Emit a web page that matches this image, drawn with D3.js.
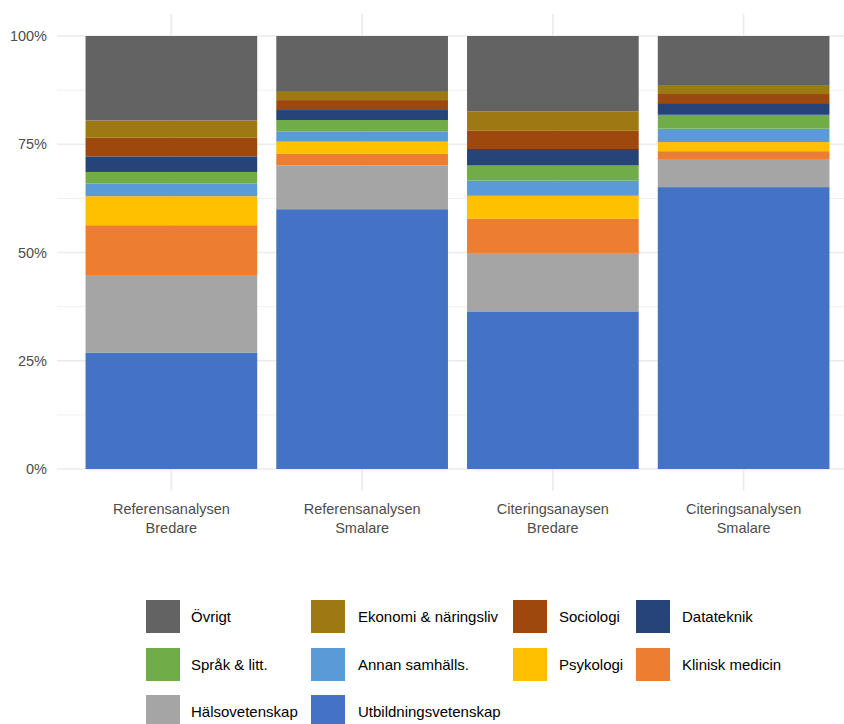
<!DOCTYPE html>
<html>
<head>
<meta charset="utf-8">
<script src="https://cdn.jsdelivr.net/npm/d3@7"></script>
<style>
  html, body { margin: 0; padding: 0; background: #fff; }
  svg { display: block; font-family: "Liberation Sans", Arial, sans-serif; }
</style>
</head>
<body>
<svg id="chart" width="844" height="724"></svg>
<script>
// Categories along the x axis (two-line labels)
const groups = [
  ["Referensanalysen", "Bredare"],
  ["Referensanalysen", "Smalare"],
  ["Citeringsanaysen", "Bredare"],
  ["Citeringsanalysen", "Smalare"]
];

// Subject areas, stacked from the bottom up
const subjects = [
  "Utbildningsvetenskap", "Hälsovetenskap", "Klinisk medicin", "Psykologi",
  "Annan samhälls.", "Språk & litt.", "Datateknik", "Sociologi",
  "Ekonomi & näringsliv", "Övrigt"
];

// Share (%) of each subject per category, in the order of `subjects`
const refBredare  = [26.9, 17.9, 11.5, 6.7, 2.9, 2.7, 3.6, 4.3, 4.0, 19.5];
const refSmalare  = [60.0, 10.1, 2.7, 2.8, 2.3, 2.7, 2.3, 2.3, 1.9, 12.9];
const citBredare  = [36.4, 13.5, 7.9, 5.3, 3.5, 3.5, 3.8, 4.2, 4.5, 17.4];
const citSmalare  = [65.1, 6.5, 1.8, 2.1, 3.1, 3.2, 2.7, 2.1, 1.9, 11.5];
const seriesByGroup = [refBredare, refSmalare, citBredare, citSmalare];

const colors = [
  "#4472C4", "#A5A5A5", "#ED7D31", "#FFC000", "#5B9BD5",
  "#70AD47", "#264478", "#9E480E", "#9E7913", "#636363"
];

// Legend layout (row by row)
const legendOrder = [
  "Övrigt", "Ekonomi & näringsliv", "Sociologi", "Datateknik",
  "Språk & litt.", "Annan samhälls.", "Psykologi", "Klinisk medicin",
  "Hälsovetenskap", "Utbildningsvetenskap"
];

const yTicks = [0, 25, 50, 75, 100];
const yMinor = [12.5, 37.5, 62.5, 87.5];

const svg = d3.select("#chart");
const panel = { left: 57, right: 858, top: 14, bottom: 491 };

// Discrete axis expanded by 0.6 of a step on both sides
const x = d3.scaleBand()
  .domain(d3.range(groups.length))
  .range([76, 839])
  .paddingInner(0.1)
  .paddingOuter(0.05);

const y = d3.scaleLinear().domain([0, 100]).range([469, 36]);

const grid = svg.append("g");
grid.selectAll("line.minor").data(yMinor).join("line")
  .attr("x1", panel.left).attr("x2", panel.right)
  .attr("y1", d => y(d)).attr("y2", d => y(d))
  .attr("stroke", "#f0f0f0").attr("stroke-width", 1);
grid.selectAll("line.major").data(yTicks).join("line")
  .attr("x1", panel.left).attr("x2", panel.right)
  .attr("y1", d => y(d)).attr("y2", d => y(d))
  .attr("stroke", "#ebebeb").attr("stroke-width", 1.6);
grid.selectAll("line.vert").data(d3.range(groups.length)).join("line")
  .attr("x1", d => x(d) + x.bandwidth() / 2).attr("x2", d => x(d) + x.bandwidth() / 2)
  .attr("y1", panel.top).attr("y2", panel.bottom)
  .attr("stroke", "#ebebeb").attr("stroke-width", 1.6);

// Stacked bars
const rows = groups.map((g, i) => {
  const r = { idx: i };
  subjects.forEach((s, j) => { r[s] = seriesByGroup[i][j]; });
  return r;
});
const stack = d3.stack().keys(subjects)(rows);

svg.append("g").selectAll("g").data(stack).join("g")
  .attr("fill", (d, i) => colors[i])
  .selectAll("rect").data(d => d).join("rect")
  .attr("x", d => x(d.data.idx))
  .attr("width", x.bandwidth())
  .attr("y", d => y(d[1]))
  .attr("height", d => y(d[0]) - y(d[1]));

// Y axis labels
svg.append("g").selectAll("text").data(yTicks).join("text")
  .attr("x", 47).attr("y", d => y(d))
  .attr("dy", "0.35em")
  .attr("text-anchor", "end")
  .attr("font-size", 14.5)
  .attr("fill", "#4d4d4d")
  .text(d => d + "%");

// X axis labels
const xl = svg.append("g").selectAll("text").data(groups).join("text")
  .attr("x", (d, i) => x(i) + x.bandwidth() / 2)
  .attr("y", 514)
  .attr("text-anchor", "middle")
  .attr("font-size", 14.5)
  .attr("fill", "#4d4d4d");
xl.append("tspan").text(d => d[0]);
xl.append("tspan").attr("x", (d, i) => x(i) + x.bandwidth() / 2).attr("dy", 19).text(d => d[1]);

// Legend
const colX = [[146, 191], [311, 358], [513, 559], [636, 682]];
const rowY = [600, 648, 695];
const leg = svg.append("g").selectAll("g").data(legendOrder).join("g")
  .attr("transform", (d, i) => `translate(${colX[i % 4][0]},${rowY[Math.floor(i / 4)]})`);
leg.append("rect")
  .attr("width", 34).attr("height", 33)
  .attr("fill", d => colors[subjects.indexOf(d)]);
leg.append("text")
  .attr("x", (d, i) => colX[i % 4][1] - colX[i % 4][0])
  .attr("y", 17).attr("dy", "0.35em")
  .attr("font-size", 15)
  .attr("fill", "#000")
  .text(d => d);
</script>
</body>
</html>
